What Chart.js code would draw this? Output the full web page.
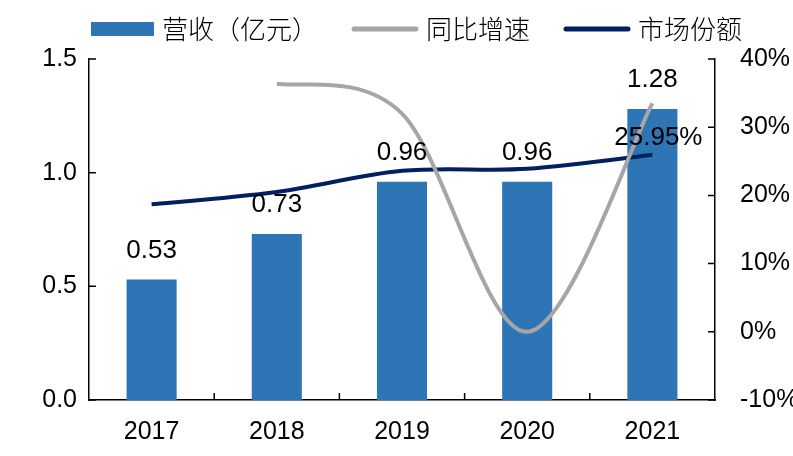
<!DOCTYPE html>
<html>
<head>
<meta charset="utf-8">
<script src="https://cdn.jsdelivr.net/npm/chart.js@4.4.0/dist/chart.umd.min.js"></script>
<style>
  html, body { margin: 0; padding: 0; background: #fff; }
  #wrap { width: 793px; height: 456px; position: relative; }
</style>
</head>
<body>
<div id="wrap"><canvas id="myChart"></canvas></div>
<script>
const years = ["2017", "2018", "2019", "2020", "2021"];
const revenue = [0.53, 0.73, 0.96, 0.96, 1.28];
const growth = [null, 36.4, 32.0, 0, 33.5];
const share = [18.7, 20.5, 23.6, 23.9, 25.95];
const shareLabelIdx = [4];
const leftTicks = [0, 0.5, 1.0, 1.5];
const rightTicks = [-10, 0, 10, 20, 30, 40];

const numFont = '"Liberation Sans", Arial, sans-serif';
const cjkFont = '"Noto Sans CJK SC", sans-serif';

// legend drawn by hand so spacing matches the original
const topLegend = {
  id: "topLegend",
  afterDraw(chart) {
    const ctx = chart.ctx;
    ctx.save();
    ctx.font = "300 26px " + cjkFont;
    ctx.textBaseline = "middle";
    ctx.textAlign = "left";
    let x = 91;
    const y = 29;
    chart.data.datasets.forEach(ds => {
      let w;
      if (ds.type === "line") {
        w = 66;
        ctx.strokeStyle = ds.borderColor;
        ctx.lineWidth = 5;
        ctx.lineCap = "round";
        ctx.beginPath();
        ctx.moveTo(x + 2, y);
        ctx.lineTo(x + w - 2, y);
        ctx.stroke();
      } else {
        w = 63;
        ctx.fillStyle = ds.backgroundColor;
        ctx.fillRect(x, y - 7, w, 14);
      }
      x += w + 8;
      ctx.fillStyle = "#000";
      ctx.fillText(ds.label, x, y);
      x += ctx.measureText(ds.label).width + 34;
    });
    ctx.restore();
  }
};

// Excel style smoothing: uniform catmull-rom control points
const excelSmooth = {
  id: "excelSmooth",
  beforeDatasetsDraw(chart) {
    chart.data.datasets.forEach((ds, di) => {
      if (ds.type !== "line") return;
      const pts = chart.getDatasetMeta(di).data.filter((p, i) => ds.data[i] !== null);
      const n = pts.length;
      pts.forEach((p, i) => {
        const prev = pts[Math.max(i - 1, 0)];
        const next = pts[Math.min(i + 1, n - 1)];
        const dx = (next.x - prev.x) / 6;
        const dy = (next.y - prev.y) / 6;
        p.cp1x = p.x - dx;
        p.cp1y = p.y - dy;
        p.cp2x = p.x + dx;
        p.cp2y = p.y + dy;
      });
    });
  }
};

// tick marks pointing into the plot
const inwardTicks = {
  id: "inwardTicks",
  afterDraw(chart) {
    const { ctx, chartArea: a, scales } = chart;
    ctx.save();
    ctx.strokeStyle = "#000";
    ctx.lineWidth = 1.5;
    ctx.beginPath();
    scales.y.ticks.forEach(t => {
      const py = scales.y.getPixelForValue(t.value);
      ctx.moveTo(a.left, py);
      ctx.lineTo(a.left + 7, py);
    });
    scales.y1.ticks.forEach(t => {
      const py = scales.y1.getPixelForValue(t.value);
      ctx.moveTo(a.right, py);
      ctx.lineTo(a.right - 7, py);
    });
    for (let i = 1; i < years.length; i++) {
      const px = (scales.x.getPixelForValue(i - 1) + scales.x.getPixelForValue(i)) / 2;
      ctx.moveTo(px, a.bottom);
      ctx.lineTo(px, a.bottom - 7);
    }
    ctx.stroke();
    ctx.restore();
  }
};

const valueLabels = {
  id: "valueLabels",
  afterDatasetsDraw(chart) {
    const ctx = chart.ctx;
    ctx.save();
    ctx.fillStyle = "#000";
    ctx.font = "26px " + numFont;
    ctx.textAlign = "center";
    ctx.textBaseline = "middle";
    chart.getDatasetMeta(0).data.forEach((bar, i) => {
      ctx.fillText(revenue[i].toFixed(2), bar.x, bar.y - 29);
    });
    const shareMeta = chart.getDatasetMeta(2);
    shareLabelIdx.forEach(i => {
      const p = shareMeta.data[i];
      ctx.fillText(share[i].toFixed(2) + "%", p.x + 6, p.y - 17);
    });
    ctx.restore();
  }
};

const canvas = document.getElementById("myChart");
const ctx = canvas.getContext("2d");
const myChart = new Chart(ctx, {
  type: "bar",
  data: {
    labels: years,
    datasets: [
      {
        type: "bar",
        label: "营收（亿元）",
        data: revenue,
        yAxisID: "y",
        backgroundColor: "#2E75B6",
        categoryPercentage: 1.0,
        barPercentage: 0.4,
        order: 3
      },
      {
        type: "line",
        label: "同比增速",
        data: growth,
        yAxisID: "y1",
        borderColor: "#A6A6A6",
        borderWidth: 4,
        pointRadius: 0,
        tension: 0.4,
        fill: false,
        order: 1
      },
      {
        type: "line",
        label: "市场份额",
        data: share,
        yAxisID: "y1",
        borderColor: "#002060",
        borderWidth: 4,
        pointRadius: 0,
        tension: 0.4,
        fill: false,
        order: 2
      }
    ]
  },
  options: {
    responsive: true,
    maintainAspectRatio: false,
    devicePixelRatio: 1,
    animation: false,
    layout: { padding: { top: 59, left: 0, right: 0, bottom: 0 } },
    plugins: {
      legend: { display: false },
      tooltip: { enabled: false }
    },
    scales: {
      x: {
        grid: { display: false, drawTicks: false },
        border: { display: true, color: "#000", width: 1.5 },
        ticks: { color: "#000", font: { family: numFont, size: 25 }, padding: 17 },
        afterFit(scale) { scale.height = 56; }
      },
      y: {
        position: "left",
        min: 0,
        max: 1.5,
        afterBuildTicks(scale) { scale.ticks = leftTicks.map(v => ({ value: v })); },
        grid: { display: false, drawTicks: false },
        border: { display: true, color: "#000", width: 1.5 },
        ticks: {
          color: "#000",
          font: { family: numFont, size: 25 },
          padding: 12,
          callback: v => Number(v).toFixed(1)
        },
        afterFit(scale) { scale.width = 89; }
      },
      y1: {
        position: "right",
        min: -10,
        max: 40,
        afterBuildTicks(scale) { scale.ticks = rightTicks.map(v => ({ value: v })); },
        grid: { display: false, drawTicks: false },
        border: { display: true, color: "#000", width: 1.5 },
        ticks: {
          color: "#000",
          font: { family: numFont, size: 25 },
          padding: 25,
          callback: v => v + "%"
        },
        afterFit(scale) { scale.width = 78; }
      }
    }
  },
  plugins: [excelSmooth, inwardTicks, valueLabels, topLegend]
});
</script>
</body>
</html>
